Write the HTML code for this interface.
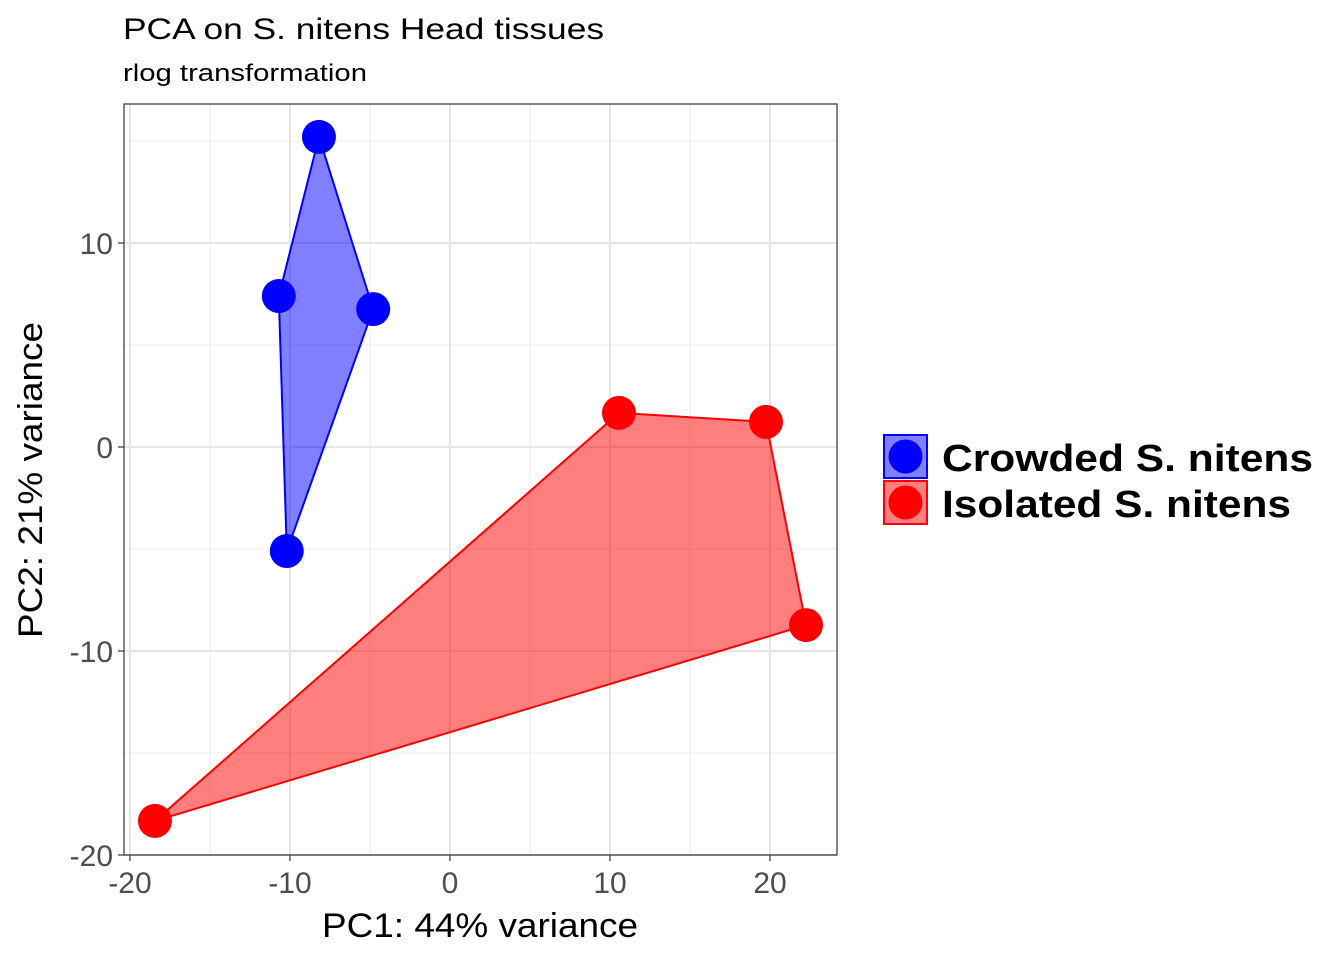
<!DOCTYPE html>
<html><head><meta charset="utf-8"><style>
body{margin:0;background:#fff;font-family:"Liberation Sans",Arial,sans-serif}
</style></head><body>
<svg id="chart" width="1344" height="960" xmlns="http://www.w3.org/2000/svg">
<text x="123" y="39" font-size="30" textLength="481" lengthAdjust="spacingAndGlyphs" fill="#000">PCA on S. nitens Head tissues</text>
<text x="123" y="81" font-size="24" textLength="244" lengthAdjust="spacingAndGlyphs" fill="#000">rlog transformation</text>
<rect x="124" y="104" width="713" height="751" fill="#fff"/>
<g id="grid"></g>
<g id="hulls"></g>
<g id="points"></g>
<rect x="124" y="104" width="713" height="751" fill="none" stroke="#333" stroke-width="1.2"/>
<g id="axes"></g>
<text x="480" y="937" font-size="34" textLength="316" lengthAdjust="spacingAndGlyphs" text-anchor="middle" fill="#000">PC1: 44% variance</text>
<text transform="translate(42,480) rotate(-90)" font-size="34" textLength="316" lengthAdjust="spacingAndGlyphs" text-anchor="middle" fill="#000">PC2: 21% variance</text>
<g>
<g>
<rect x="884" y="435" width="43" height="43" fill="rgba(0,0,255,0.5)" stroke="#00f" stroke-width="2"/>
<circle cx="905.5" cy="456.5" r="17" fill="#00f"/>
<text x="942" y="471" font-size="38" textLength="371" lengthAdjust="spacingAndGlyphs" font-weight="bold">Crowded S. nitens</text>
</g>
<g>
<rect x="884" y="481" width="43" height="43" fill="rgba(255,0,0,0.5)" stroke="#f00" stroke-width="2"/>
<circle cx="905.5" cy="502.5" r="17" fill="#f00"/>
<text x="942" y="517" font-size="38" textLength="349" lengthAdjust="spacingAndGlyphs" font-weight="bold">Isolated S. nitens</text>
</g>
</g>
</svg>
<script>
const crowdedX=[-8.19,-4.8,-10.2,-10.7];
const crowdedY=[15.2,6.76,-5.1,7.4];
const isolatedX=[10.56,19.75,22.25,-18.44];
const isolatedY=[1.67,1.23,-8.73,-18.33];
const xTicks=[-20,-10,0,10,20];
const yTicks=[-20,-10,0,10];
const xMinor=[-15,-5,5,15];
const yMinor=[-15,-5,5,15];
const NS='http://www.w3.org/2000/svg';
function sx(v){return 450+v*16;}
function sy(v){return 447-v*20.4;}
function mk(tag,attrs,parent){const e=document.createElementNS(NS,tag);for(const k in attrs)e.setAttribute(k,attrs[k]);document.getElementById(parent).appendChild(e);return e;}
xMinor.forEach(v=>{const l=mk('line',{x1:sx(v),x2:sx(v),y1:104,y2:855,stroke:'#ebebeb','stroke-width':1},'grid');

});
yMinor.forEach(v=>{if(sy(v)<104||sy(v)>855)return;const l=mk('line',{x1:124,x2:837,y1:sy(v),y2:sy(v),stroke:'#ebebeb','stroke-width':1},'grid');

});
xTicks.forEach(v=>{const l=mk('line',{x1:sx(v),x2:sx(v),y1:104,y2:855,stroke:'#e5e5e5','stroke-width':2},'grid');


const t=mk('line',{x1:sx(v),x2:sx(v),y1:855,y2:861,stroke:'#333','stroke-width':1.2},'axes');


const tx=mk('text',{x:sx(v),y:893,'font-size':30,'text-anchor':'middle',fill:'#4d4d4d'},'axes');tx.textContent=v;

});
yTicks.forEach(v=>{const l=mk('line',{x1:124,x2:837,y1:sy(v),y2:sy(v),stroke:'#e5e5e5','stroke-width':2},'grid');


const t=mk('line',{x1:118,x2:124,y1:sy(v),y2:sy(v),stroke:'#333','stroke-width':1.2},'axes');


const tx=mk('text',{x:113,y:sy(v)+11,'font-size':30,'text-anchor':'end',fill:'#4d4d4d'},'axes');tx.textContent=v;

});
function hull(xs,ys,col,name){const pts=xs.map((x,i)=>sx(x)+','+sy(ys[i])).join(' ');
const p=mk('polygon',{points:pts,fill:col,'fill-opacity':0.5,stroke:col,'stroke-width':2},'hulls');


xs.forEach((x,i)=>{const c=mk('circle',{cx:sx(x),cy:sy(ys[i]),r:17,fill:col},'points');

});}
hull(crowdedX,crowdedY,'#0000ff','crowded');
hull(isolatedX,isolatedY,'#ff0000','isolated');
</script>
</body></html>
